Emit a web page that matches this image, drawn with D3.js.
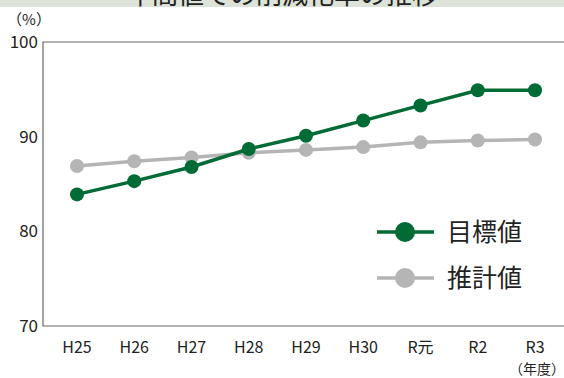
<!DOCTYPE html>
<html>
  <head>
    <meta charset="utf-8">
    <script src="https://d3js.org/d3.v7.min.js"></script>
    <style type="text/css">
      body { margin: 0; background: #fff; }
      svg { display: block; font-family: "Noto Sans CJK JP", "Noto Sans", sans-serif; }
    </style>
  </head>
  <body>
    <div id="chart"></div>
    <script type="text/javascript">
      var years = ["H25", "H26", "H27", "H28", "H29", "H30", "R元", "R2", "R3"];
      var targetValues = [83.9, 85.3, 86.8, 88.7, 90.1, 91.7, 93.3, 94.9, 94.9];
      var estimateValues = [86.9, 87.4, 87.8, 88.3, 88.6, 88.9, 89.4, 89.6, 89.7];
      var yTicks = [70, 80, 90, 100];
      var seriesNames = ["目標値", "推計値"];

      var width = 564, height = 378,
          margin = {top: 42, bottom: 52, left: 43};

      var svg = d3.select("#chart").append("svg")
        .attr("width", width)
        .attr("height", height);

      // title band, mostly outside the picture
      svg.append("rect").attr("x", 0).attr("y", 0).attr("width", width).attr("height", 7)
        .attr("fill", "#dde3d9");
      svg.append("text").attr("x", 282).attr("y", 4)
        .attr("text-anchor", "middle").attr("font-size", 26).attr("fill", "#222")
        .text("年間値での削減化率の推移");
      svg.append("rect").attr("x", 0).attr("y", 7).attr("width", width).attr("height", 8)
        .attr("fill", "#fff");

      var x = d3.scalePoint().domain(years).range([77, 535]).padding(0);
      var y = d3.scaleLinear().domain([70, 100]).range([height - margin.bottom, margin.top]);

      // frame
      svg.append("path")
        .attr("d", "M" + (width + 5) + "," + y(100) + "H" + margin.left + "V" + y(70) + "H" + (width + 5))
        .attr("fill", "none").attr("stroke", "#666").attr("stroke-width", 1.2);

      svg.selectAll(".ylab").data(yTicks).enter().append("text")
        .attr("x", 38).attr("y", function(d) { return y(d) + 6; })
        .attr("text-anchor", "end").attr("font-size", 17).attr("fill", "#222")
        .text(function(d) { return d; });

      svg.selectAll(".xlab").data(years).enter().append("text")
        .attr("x", function(d) { return x(d); }).attr("y", 353)
        .attr("text-anchor", "middle").attr("font-size", 16).attr("fill", "#222")
        .text(function(d) { return d; });

      svg.append("text").attr("x", 537).attr("y", 374).attr("text-anchor", "middle")
        .attr("font-size", 14).attr("fill", "#222").text("（年度）");
      svg.append("text").attr("x", 29).attr("y", 25).attr("text-anchor", "middle")
        .attr("font-size", 15).attr("fill", "#222").text("（%）");

      var series = [
        {name: seriesNames[1], values: estimateValues, color: "#b5b5b5"},
        {name: seriesNames[0], values: targetValues, color: "#006b35"}
      ];

      var line = d3.line()
        .x(function(d, i) { return x(years[i]); })
        .y(function(d) { return y(d); });

      series.forEach(function(s) {
        svg.append("path").datum(s.values)
          .attr("d", line).attr("fill", "none")
          .attr("stroke", s.color).attr("stroke-width", 3.5);
        svg.selectAll(null).data(s.values).enter().append("circle")
          .attr("cx", function(d, i) { return x(years[i]); })
          .attr("cy", function(d) { return y(d); })
          .attr("r", 7).attr("fill", s.color);
      });

      // legend
      var legend = svg.append("g");
      [series[1], series[0]].forEach(function(s, i) {
        var ly = 232 + i * 46;
        legend.append("line").attr("x1", 377).attr("x2", 434).attr("y1", ly).attr("y2", ly)
          .attr("stroke", s.color).attr("stroke-width", 3.5);
        legend.append("circle").attr("cx", 405).attr("cy", ly).attr("r", 10).attr("fill", s.color);
        legend.append("text").attr("x", 447).attr("y", ly + 9).attr("font-size", 25)
          .attr("fill", "#222").text(s.name);
      });
    </script>
  </body>
</html>
